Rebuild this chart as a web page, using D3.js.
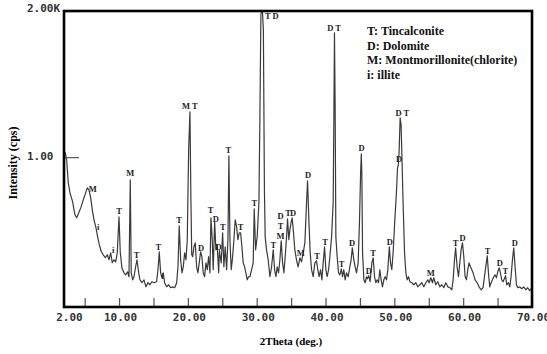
<!DOCTYPE html>
<html>
<head>
<meta charset="utf-8">
<script src="https://cdn.jsdelivr.net/npm/d3@7"></script>
<style>
body{margin:0;background:#fff;}
</style>
</head>
<body>
<script>
// XRD pattern: [2theta (deg), intensity (cps)]
const pattern = [[2.15,1036],[2.39,981],[2.62,824],[2.87,756],[3.26,694],[3.45,640],[3.60,606],[3.84,585],[4.03,606],[4.43,653],[4.80,708],[5.19,763],[5.38,790],[5.63,776],[5.88,722],[6.11,640],[6.36,571],[6.65,517],[6.89,455],[7.13,401],[7.42,353],[7.71,332],[8.00,312],[8.29,332],[8.54,298],[8.78,346],[9.01,278],[9.26,298],[9.51,284],[9.74,346],[9.99,592],[10.18,346],[10.42,243],[10.71,209],[10.96,195],[11.25,216],[11.44,182],[11.63,845],[11.77,209],[11.98,161],[12.17,182],[12.46,264],[12.60,298],[12.85,209],[13.04,161],[13.33,141],[13.62,161],[13.91,113],[14.20,141],[14.49,127],[14.78,148],[15.07,141],[15.46,148],[15.69,250],[15.84,353],[16.04,209],[16.23,175],[16.42,209],[16.62,141],[16.91,113],[17.20,127],[17.50,107],[17.79,113],[18.08,107],[18.37,141],[18.56,250],[18.74,530],[18.95,298],[19.14,209],[19.33,250],[19.53,346],[19.72,298],[19.91,435],[20.11,1050],[20.30,1310],[20.44,708],[20.56,332],[20.69,319],[20.88,387],[21.07,414],[21.27,250],[21.46,209],[21.65,277],[21.85,353],[22.04,319],[22.23,209],[22.43,182],[22.62,277],[22.81,230],[23.01,319],[23.20,209],[23.35,585],[23.54,435],[23.68,230],[23.89,558],[24.07,366],[24.26,401],[24.47,209],[24.58,360],[24.73,312],[24.84,277],[25.05,483],[25.23,250],[25.42,387],[25.63,230],[25.82,435],[25.96,1009],[26.11,435],[26.30,230],[26.50,319],[26.69,435],[26.88,571],[27.08,524],[27.27,435],[27.46,483],[27.66,483],[27.85,387],[28.04,277],[28.24,250],[28.43,209],[28.62,161],[28.82,182],[29.01,182],[29.26,230],[29.49,277],[29.64,647],[29.84,366],[30.07,455],[30.32,688],[30.46,1255],[30.61,1979],[30.83,2000],[30.97,1870],[31.12,776],[31.23,455],[31.43,366],[31.67,298],[31.92,182],[32.16,250],[32.40,366],[32.60,230],[32.79,182],[32.98,250],[33.18,209],[33.37,298],[33.56,428],[33.76,277],[33.95,209],[34.14,319],[34.34,455],[34.48,578],[34.67,435],[34.82,503],[35.01,558],[35.15,585],[35.35,483],[35.54,366],[35.78,298],[36.02,250],[36.27,312],[36.51,284],[36.75,346],[37.00,414],[37.24,688],[37.39,838],[37.58,571],[37.77,346],[37.97,230],[38.20,182],[38.45,277],[38.69,291],[38.88,230],[39.07,182],[39.28,230],[39.47,161],[39.66,277],[39.86,387],[40.05,230],[40.24,182],[40.44,230],[40.63,319],[40.88,455],[41.11,688],[41.21,1255],[41.30,1850],[41.40,1323],[41.50,455],[41.69,319],[41.89,209],[42.08,195],[42.30,236],[42.47,182],[42.66,230],[42.85,161],[43.05,209],[43.29,182],[43.53,250],[43.72,298],[43.89,380],[44.11,298],[44.30,250],[44.50,209],[44.74,277],[44.94,571],[45.09,879],[45.20,1023],[45.28,879],[45.38,346],[45.57,161],[45.75,141],[45.96,182],[46.10,168],[46.29,189],[46.48,148],[46.73,277],[46.92,312],[47.12,182],[47.31,141],[47.50,161],[47.70,141],[47.89,230],[48.08,161],[48.28,113],[48.47,161],[48.66,182],[48.86,161],[49.05,230],[49.27,387],[49.44,277],[49.63,230],[49.82,346],[50.07,571],[50.32,776],[50.46,927],[50.58,947],[50.70,1050],[50.84,1269],[50.98,1221],[51.13,947],[51.27,688],[51.48,346],[51.67,209],[51.86,161],[52.06,182],[52.25,148],[52.54,141],[52.83,127],[53.12,141],[53.41,113],[53.70,127],[53.99,141],[54.28,113],[54.57,141],[54.86,161],[55.05,141],[55.30,175],[55.54,141],[55.73,175],[56.02,127],[56.31,148],[56.60,113],[56.89,127],[57.18,107],[57.47,141],[57.77,113],[58.06,107],[58.35,93],[58.54,161],[58.74,298],[58.90,380],[59.12,250],[59.32,182],[59.51,277],[59.70,366],[59.90,414],[60.09,319],[60.28,182],[60.48,161],[60.67,230],[60.86,277],[61.06,250],[61.25,230],[61.44,209],[61.73,161],[62.02,141],[62.31,113],[62.60,93],[62.89,107],[63.09,182],[63.28,250],[63.50,325],[63.67,209],[63.86,113],[64.05,141],[64.25,161],[64.44,182],[64.63,195],[64.83,175],[65.02,216],[65.24,243],[65.41,209],[65.60,161],[65.80,148],[66.04,175],[66.16,189],[66.33,127],[66.58,141],[66.77,113],[66.96,182],[67.16,298],[67.35,380],[67.54,250],[67.74,127],[67.93,107],[68.22,113],[68.51,100],[68.80,113],[69.09,93],[69.38,107],[69.67,86],[69.82,100]];

// phase labels: [text, 2theta, cps]
const peakLabels = [["M",6.17,782],["i",6.98,524],["i",9.16,366],["T",9.99,633],["M",11.63,893],["T",12.56,332],["T",15.69,387],["i",16.33,189],["T",18.74,571],["M T",20.30,1350],["D",21.90,380],["T",23.30,640],["D",24.05,580],["D",24.47,387],["T",25.09,524],["T",25.89,1050],["T",27.66,524],["T",29.64,688],["T D",32.2,1966],["T",32.40,401],["D",33.47,597],["T",33.47,530],["M",33.47,462],["T",34.57,619],["D",35.30,619],["M",36.42,344],["D",37.48,879],["T",38.79,325],["T",39.95,421],["D T",41.25,1884],["T",42.33,271],["D",43.87,414],["D",45.23,1063],["D",46.29,223],["T",46.92,346],["D",49.34,421],["D T",51.15,1302],["D",50.69,988],["M",55.30,209],["T",58.88,414],["D",59.90,448],["T",63.53,360],["D",65.31,277],["T",66.14,223],["D",67.50,414]];

const xTicks = [5,10,15,20,25,30,35,40,45,50,55,60,65,70];
const xTickLabels = [2,10,20,30,40,50,60,70];
const yTickLabels = [1000,2000];
const legendItems = ["T: Tincalconite","D: Dolomite","M: Montmorillonite(chlorite)","i: illite"];

const svg = d3.select('body').append('svg')
              .attr('width',547).attr('height',354);

const x = d3.scaleLinear().domain([2,70]).range([64,532]);
const y = d3.scaleLinear().domain([-25,2000]).range([307,11]);

svg.append('clipPath').attr('id','plot')
   .append('rect').attr('x',64).attr('y',11).attr('width',468).attr('height',296);

// pattern
svg.append('path').datum(pattern)
   .attr('clip-path','url(#plot)')
   .attr('d',d3.line().x(d=>x(d[0])).y(d=>y(d[1])))
   .style('fill','none').style('stroke','#3a3a3a').style('stroke-width',1.2)
   .style('stroke-linejoin','round');

// bottom ticks (inward)
const xt = svg.append('g').attr('transform','translate(0,307)')
   .call(d3.axisBottom(x).tickValues(xTicks).tickSize(-9).tickFormat(''));
xt.select('.domain').remove();
xt.selectAll('line').style('stroke','#555').style('stroke-width',1.2);

const xl = svg.append('g').attr('transform','translate(0,307)')
   .call(d3.axisBottom(x).tickValues(xTickLabels).tickSize(0).tickPadding(6).tickFormat(d3.format('.2f')));
xl.select('.domain').remove();
xl.selectAll('text')
  .attr('dx',d=>d===2?5:1)
  .style('font-family','DejaVu Sans Mono').style('font-size','11px')
  .style('font-weight','bold').style('fill','#333');

// left ticks
const yl = svg.append('g').attr('transform','translate(64,0)')
   .call(d3.axisLeft(y).tickValues(yTickLabels).tickSize(-15)
   .tickFormat(d=>d===2000?'2.00K':d3.format('.2f')(d/1000)));
yl.select('.domain').remove();
yl.selectAll('line').style('stroke','#555').style('stroke-width',1.2);
yl.selectAll('text')
  .attr('x',-37).attr('text-anchor','start')
  .attr('dy',d=>d===2000?'0.05em':'0.2em')
  .style('font-family','DejaVu Sans Mono').style('font-size','11px')
  .style('font-weight','bold').style('fill','#333');

// frame
svg.append('rect').attr('x',64).attr('y',11).attr('width',468).attr('height',296)
   .style('fill','none').style('stroke','black').style('stroke-width',2.6);

// peak labels
svg.append('g').selectAll('text').data(peakLabels).join('text')
   .attr('x',d=>x(d[1])).attr('y',d=>y(d[2])).attr('dy','0.35em')
   .attr('text-anchor','middle')
   .style('font-family','Liberation Serif').style('font-weight','bold')
   .style('font-size','8.5px').style('fill','#222')
   .text(d=>d[0]);

// legend
svg.append('g').selectAll('text').data(legendItems).join('text')
   .attr('x',367).attr('y',(d,i)=>35+i*14.7)
   .style('font-family','Liberation Serif').style('font-weight','bold')
   .style('font-size','12px').style('fill','#111')
   .text(d=>d);

// axis titles
svg.append('text').attr('x',291).attr('y',345).attr('text-anchor','middle')
   .style('font-family','Liberation Serif').style('font-weight','bold')
   .style('font-size','11px').text('2Theta (deg.)');
svg.append('text').attr('transform','translate(17,163) rotate(-90)').attr('text-anchor','middle')
   .style('font-family','Liberation Serif').style('font-weight','bold')
   .style('font-size','12px').text('Intensity (cps)');
</script>
</body>
</html>
